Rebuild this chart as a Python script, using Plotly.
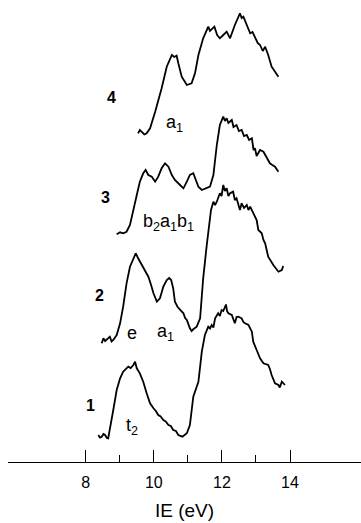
import plotly.graph_objects as go

# Photoelectron spectra: ionization energy (eV) vs intensity (arbitrary, offset per spectrum)
ie1 = [8.37, 8.42, 8.47, 8.52, 8.57, 8.62, 8.66, 8.71, 8.81, 8.91, 9.01, 9.10, 9.25, 9.32, 9.40,
       9.45, 9.50, 9.59, 9.69, 9.79, 9.89, 9.99, 10.06, 10.13, 10.20, 10.28, 10.35, 10.43, 10.50,
       10.57, 10.65, 10.72, 10.84, 10.97, 11.06, 11.16, 11.21, 11.31, 11.41, 11.50, 11.60, 11.65,
       11.70, 11.75, 11.80, 11.89, 11.94, 11.99, 12.04, 12.09, 12.12, 12.15, 12.19, 12.29, 12.34,
       12.38, 12.43, 12.48, 12.58, 12.63, 12.68, 12.78, 12.88, 12.92, 13.02, 13.12, 13.22, 13.36,
       13.41, 13.46, 13.56, 13.66, 13.70, 13.76, 13.80, 13.85]
int1 = [27, 24.5, 25.3, 28, 27, 24, 23.7, 32, 52, 72, 83.7, 90.3, 95.3, 94, 97,
        100.3, 93.7, 88.7, 80.3, 68.7, 58.7, 53.7, 51, 47, 45.5, 42, 40.5, 37, 36,
        32, 31, 27, 25.3, 28.7, 37, 65.3, 70.3, 80.3, 110.3, 127, 135.3, 133.5,
        137, 134.5, 143.7, 148.7, 146, 152, 151, 155.3, 157.5, 151, 148.7, 147, 141,
        138.7, 145, 145.3, 143.7, 140, 138.7, 137, 130.3, 120.3, 112, 103.7, 98.7, 97,
        93, 87, 78.7, 77, 74.5, 80.3, 79, 77]

ie2 = [8.47, 8.52, 8.57, 8.62, 8.71, 8.76, 8.81, 8.91, 9.01, 9.10, 9.20, 9.30, 9.40, 9.47, 9.54,
       9.62, 9.69, 9.76, 9.84, 9.92, 9.99, 10.09, 10.18, 10.28, 10.38, 10.45, 10.51, 10.57, 10.62,
       10.70, 10.77, 10.87, 10.92, 10.97, 11.06, 11.11, 11.16, 11.26, 11.36, 11.42, 11.45, 11.55,
       11.60, 11.68, 11.75, 11.80, 11.85, 11.94, 11.99, 12.04, 12.09, 12.14, 12.19, 12.24, 12.33,
       12.38, 12.43, 12.53, 12.58, 12.65, 12.73, 12.78, 12.83, 12.92, 13.02, 13.07, 13.17, 13.22,
       13.27, 13.36, 13.51, 13.66, 13.76, 13.80]
int2 = [118.7, 123.7, 121, 122.7, 125.3, 120.5, 122, 127, 138.7, 155.3, 178.7, 195.3, 203.7, 208.7, 203.7,
        199, 195.3, 191, 185.3, 177, 168.7, 160.3, 163.7, 175.3, 182, 184, 182, 173.7, 160.3,
        155, 152, 148.7, 144, 142, 133.7, 131, 132.7, 135.3, 143.7, 172, 183.7, 215.3,
        232, 252, 260.3, 257, 260.3, 268.7, 266, 277, 271, 273.7, 266, 268.7, 270.3,
        262, 263.7, 252, 258.7, 254, 257, 252, 255.3, 248.7, 242, 232, 228.7, 222,
        218.7, 205.3, 197, 190.3, 192, 196]

ie3 = [8.91, 9.01, 9.10, 9.20, 9.30, 9.40, 9.50, 9.59, 9.69, 9.76, 9.84, 9.94, 10.04, 10.13,
       10.23, 10.33, 10.43, 10.53, 10.62, 10.77, 10.87, 10.97, 11.06, 11.16, 11.21, 11.31, 11.41,
       11.55, 11.65, 11.75, 11.85, 11.94, 12.04, 12.09, 12.14, 12.19, 12.29, 12.34, 12.43, 12.50,
       12.58, 12.65, 12.73, 12.80, 12.88, 12.93, 12.97, 13.02, 13.07, 13.12, 13.22, 13.32, 13.41,
       13.48, 13.56, 13.66]
int3 = [227.7, 229.7, 228.7, 230.3, 237, 253.7, 267, 280.3, 288.7, 292, 287, 285.3, 280.3, 285.3,
        293.7, 298.7, 295.3, 287, 282, 277, 273.7, 280.3, 287, 288.7, 283.7, 275.3, 272,
        273.7, 275.3, 287, 317, 337, 345.3, 341, 343.7, 339, 342, 335, 337, 331,
        332, 326, 327, 322, 323.7, 312, 313.7, 306, 308.7, 312, 310.3, 303.7, 298.7,
        297, 295.3, 290.3]

ie4 = [9.54, 9.59, 9.64, 9.72, 9.79, 9.89, 10.04, 10.23, 10.38, 10.53, 10.60, 10.67, 10.72, 10.82,
       10.97, 11.11, 11.21, 11.31, 11.45, 11.60, 11.65, 11.70, 11.78, 11.86, 11.94, 12.04, 12.14,
       12.24, 12.38, 12.53, 12.58, 12.63, 12.73, 12.83, 12.90, 12.97, 13.05, 13.12, 13.20, 13.27,
       13.36, 13.46, 13.56, 13.66]
int4 = [328.7, 332, 330.3, 327.5, 328.7, 333.7, 350.3, 373.7, 395.3, 407, 405, 406.3, 398.7, 385.3,
        377, 378.7, 388.7, 407, 423.7, 435.3, 431, 433, 435.3, 427, 423.7, 427, 430.3,
        423.7, 437, 448.7, 444, 445.3, 437, 428.7, 430, 425.3, 419, 417, 411, 415.3,
        407, 395.3, 390.3, 385.3]

# Spectrum numbers and band assignments
num_labels = ["4", "3", "2", "1"]
num_x = [8.76, 8.57, 8.40, 8.15]
num_y = [365, 265, 167, 57]

band_labels = ["a<sub>1</sub>", "b<sub>2</sub>a<sub>1</sub>b<sub>1</sub>", "e", "a<sub>1</sub>", "t<sub>2</sub>"]
band_x = [10.62, 10.42, 9.35, 10.33, 9.35]
band_y = [339, 240, 129, 130, 36]

major_ticks = [8, 10, 12, 14]
minor_ticks = [9, 11, 13]
x_range = [5.718, 16.085]

FONT = "Liberation Sans, Arial, sans-serif"

fig = go.Figure()
for xs, ys in [(ie1, int1), (ie2, int2), (ie3, int3), (ie4, int4)]:
    fig.add_trace(go.Scatter(x=xs, y=ys, mode="lines",
                             line=dict(color="black", width=1.8),
                             hoverinfo="skip", showlegend=False))

# invisible trace to activate the minor-tick overlay axis
fig.add_trace(go.Scatter(x=[minor_ticks[0]], y=[0], xaxis="x2", mode="markers",
                         marker=dict(opacity=0), hoverinfo="skip", showlegend=False))

for t, x, y in zip(num_labels, num_x, num_y):
    fig.add_annotation(x=x, y=y, text="<b>%s</b>" % t, showarrow=False,
                       font=dict(family=FONT, size=16, color="black"))
for t, x, y in zip(band_labels, band_x, band_y):
    fig.add_annotation(x=x, y=y, text=t, showarrow=False,
                       font=dict(family=FONT, size=18, color="black"))

fig.update_layout(
    width=361, height=523,
    margin=dict(l=8, r=0, t=0, b=61, autoexpand=False),
    paper_bgcolor="white", plot_bgcolor="white",
    font=dict(family=FONT, size=16, color="black"),
    xaxis=dict(range=x_range, tickvals=major_ticks, ticktext=[str(v) for v in major_ticks],
               ticks="inside", ticklen=12, tickwidth=1.3, tickcolor="black",
               showline=True, linecolor="black", linewidth=1.3,
               showgrid=False, zeroline=False, fixedrange=True,
               ticklabelstandoff=6, automargin=False,
               title=dict(text="IE (eV)", font=dict(size=19), standoff=13)),
    xaxis2=dict(range=x_range, overlaying="x", anchor="y", side="bottom",
                tickvals=minor_ticks, ticks="inside", ticklen=7, tickwidth=1.3,
                tickcolor="black", showticklabels=False, showline=False,
                showgrid=False, zeroline=False, fixedrange=True),
    yaxis=dict(range=[0, 462], visible=False, fixedrange=True),
)

fig.write_html("out.html", config={"displayModeBar": False},
               post_script="document.body.style.margin='0';document.body.style.padding='0';")
